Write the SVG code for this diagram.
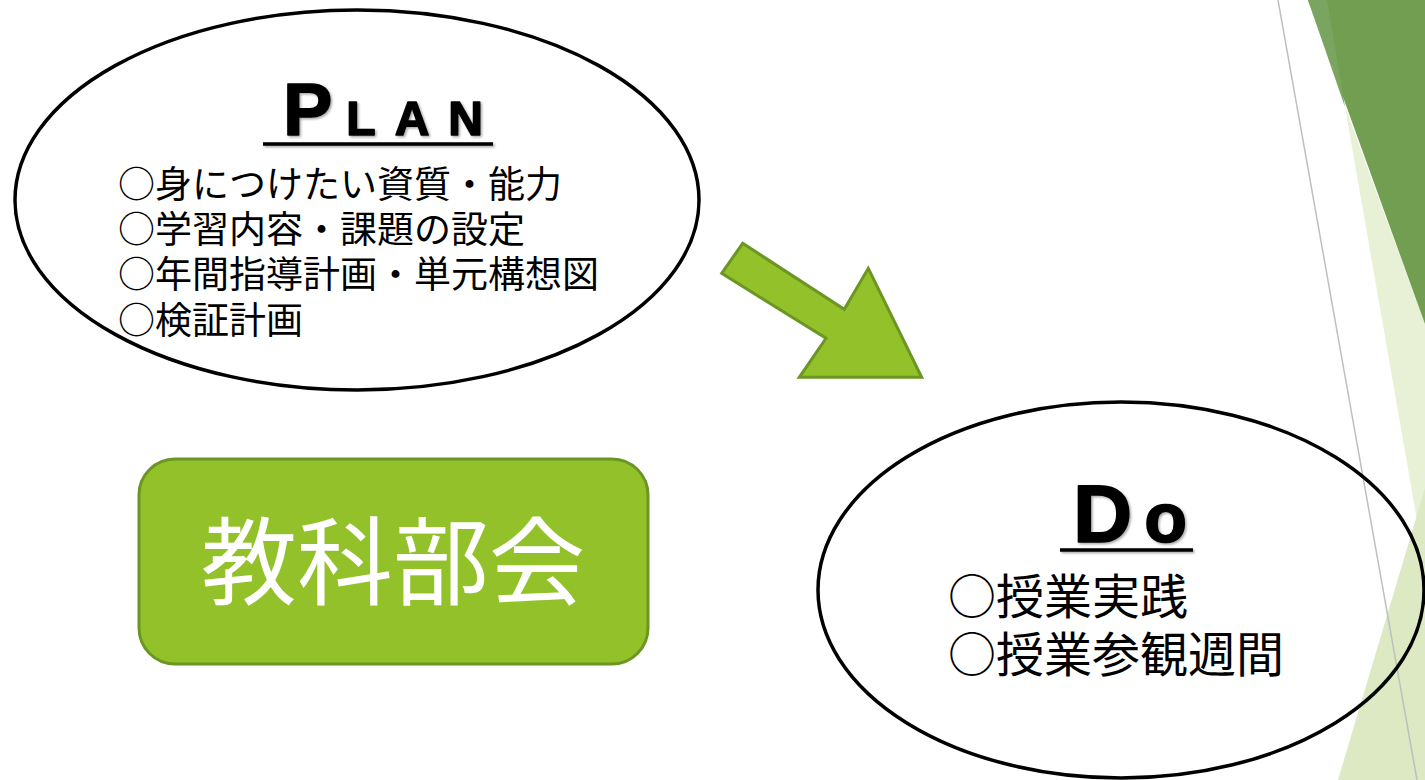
<svg xmlns="http://www.w3.org/2000/svg" width="1425" height="780" viewBox="0 0 1425 780">
  <defs>
    <style>
      .ell { fill: none; stroke: #000; stroke-width: 3.5; }
      .head { font-family: "Liberation Sans", Arial, sans-serif; font-weight: bold; fill: #000; stroke: #000; stroke-width: 1.6; stroke-linejoin: round; }
      .jp { font-family: "Noto Sans CJK JP", "Noto Sans", sans-serif; fill: #000; }
      .uline { stroke: #000; stroke-width: 3.5; }
    </style>
    <filter id="shadow" x="-20%" y="-20%" width="140%" height="140%">
      <feDropShadow dx="1.5" dy="1.5" stdDeviation="1.2" flood-color="#000" flood-opacity="0.35"/>
    </filter>
  </defs>
  <rect width="1425" height="780" fill="#fff"/>
  <!-- right side decoration -->
  <g id="decoration">
    <polygon points="1345,107 1425,566 1425,324" fill="#e8f0d5"/>
    <polygon points="1308,0 1425,0 1425,324" fill="#729e52"/>
    <polygon points="1308,0 1327,0 1345,107" fill="#79a561"/>
    <polygon points="1425,488 1338,780 1425,780" fill="#dce9c2"/>
    <line x1="1278" y1="0" x2="1417" y2="780" stroke="#bfbfbf" stroke-width="1.5"/>
  </g>
  <g id="plan">
    <ellipse class="ell" cx="357" cy="200" rx="342" ry="190"/>
    <g filter="url(#shadow)">
      <text class="head" x="283" y="135"><tspan font-size="74">P</tspan><tspan font-size="48" letter-spacing="19" dx="14">LAN</tspan></text>
      <line class="uline" x1="263" y1="144" x2="493" y2="144"/>
    </g>
    <text class="jp" font-size="37" x="118" y="198">○身につけたい資質・能力</text>
    <text class="jp" font-size="37" x="118" y="243">○学習内容・課題の設定</text>
    <text class="jp" font-size="37" x="118" y="288">○年間指導計画・単元構想図</text>
    <text class="jp" font-size="37" x="118" y="334">○検証計画</text>
  </g>
  <g id="connectors">
    <polygon points="742.7,243.3 844.3,309.3 868.3,268.3 921.7,377.3 799.3,377.3 826,338.3 721.7,273.3" fill="#92c12a" stroke="#6b9622" stroke-width="3" stroke-linejoin="miter"/>
  </g>
  <g id="kyoka">
    <rect x="139" y="459" width="509" height="205" rx="36" ry="36" fill="#93c12a" stroke="#6b9622" stroke-width="3"/>
    <text x="393" y="597" font-family="Noto Sans CJK JP, sans-serif" font-size="96" fill="#fff" text-anchor="middle">教科部会</text>
  </g>
  <g id="do">
    <ellipse class="ell" cx="1121" cy="590" rx="303" ry="188"/>
    <g filter="url(#shadow)">
      <text class="head" x="1073" y="542"><tspan font-size="82">D</tspan><tspan font-size="70" dx="12">o</tspan></text>
      <line class="uline" x1="1060" y1="550" x2="1193" y2="550"/>
    </g>
    <text class="jp" font-size="48" x="948" y="614">○授業実践</text>
    <text class="jp" font-size="48" x="948" y="672">○授業参観週間</text>
  </g>
</svg>
